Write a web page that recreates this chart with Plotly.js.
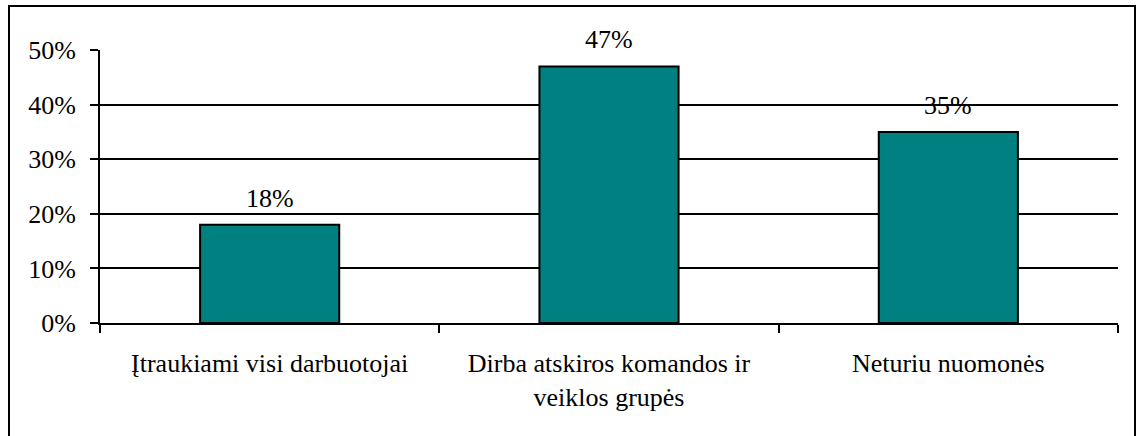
<!DOCTYPE html>
<html>
<head>
<meta charset="utf-8">
<script src="https://cdn.plot.ly/plotly-3.0.1.min.js"></script>
<style>
  html, body { margin: 0; padding: 0; background: #fff; }
  #wrap { position: relative; width: 1136px; height: 436px; overflow: hidden; }
  #chart { position: absolute; left: 0; top: 0; width: 1136px; height: 436px; }
  #frame { position: absolute; left: 8px; top: 5px; width: 1124px; height: 440px;
           border-left: 2px solid #000; border-top: 2px solid #000; border-right: 2px solid #000;
           pointer-events: none; }
</style>
</head>
<body>
<div id="wrap">
  <div id="chart"></div>
  <div id="frame"></div>
</div>
<script>
const categories = ["Įtraukiami visi darbuotojai", "Dirba atskiros komandos ir<br>veiklos grupės", "Neturiu nuomonės"];
const values = [0.18, 0.47, 0.35];
const valueLabels = ["18%", "47%", "35%"];
const yTicks = [0, 0.1, 0.2, 0.3, 0.4, 0.5];
const yTickLabels = ["0%", "10%", "20%", "30%", "40%", "50%"];

const font = { family: "'Liberation Serif', 'DejaVu Serif', serif", size: 26, color: "#000" };

const trace = {
  type: "bar",
  x: categories,
  y: values,
  marker: { color: "#008080", line: { color: "#000", width: 2 } },
  hoverinfo: "skip"
};

const annotations = categories.map((c, i) => ({
  x: c, y: values[i], xref: "x", yref: "y",
  text: valueLabels[i], showarrow: false,
  yanchor: "bottom", yshift: 10,
  font: font
}));

const layout = {
  width: 1136, height: 436,
  margin: { l: 100, r: 18, t: 50, b: 113 },
  paper_bgcolor: "rgba(0,0,0,0)",
  plot_bgcolor: "#fff",
  font: font,
  showlegend: false,
  bargap: 0.59,
  xaxis: {
    type: "category",
    showgrid: false,
    showline: true, linecolor: "#000", linewidth: 2,
    ticks: "outside", ticklen: 8, tickwidth: 2, tickcolor: "#000",
    tickson: "boundaries",
    ticklabelstandoff: 16,
    tickfont: font,
    zeroline: false
  },
  yaxis: {
    range: [0, 0.5],
    tickvals: yTicks, ticktext: yTickLabels,
    showgrid: true, gridcolor: "#000", gridwidth: 2,
    showline: true, linecolor: "#000", linewidth: 2,
    ticks: "outside", ticklen: 8, tickwidth: 2, tickcolor: "#000",
    ticklabelstandoff: 9,
    tickfont: font,
    zeroline: false
  },
  annotations: annotations
};

Plotly.newPlot("chart", [trace], layout, { staticPlot: true, displayModeBar: false });
</script>
</body>
</html>
